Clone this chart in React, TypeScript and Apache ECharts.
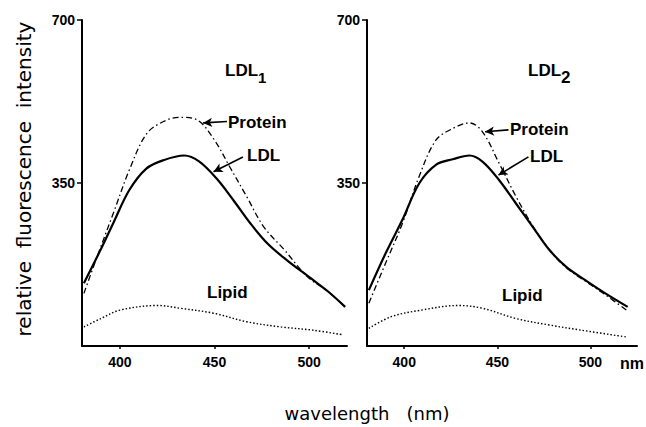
import React, { useEffect, useRef } from "react";
import * as echarts from "echarts";

// ---- data (wavelength in nm, relative fluorescence intensity) ----
const wlLdl1 = [381, 390, 397, 405, 414, 423, 434, 442, 451, 460, 469, 478, 488, 501, 510, 519];
const ldl1 = [135, 208, 268, 335, 381, 399, 409, 396, 360, 313, 263, 220, 185, 145, 117, 84];
const wlProtein1 = [381, 388, 397, 405, 414, 423, 432, 441, 450, 458, 467, 476, 487, 499, 510, 519];
const protein1 = [113, 192, 290, 378, 455, 482, 491, 485, 442, 385, 321, 256, 206, 149, 117, 84];
const wlLipid1 = [381, 390, 400, 420, 432, 450, 467, 485, 502, 518];
const lipid1 = [41, 59, 77, 87, 81, 70, 52, 41, 34, 24];

const wlLdl2 = [381, 390, 399, 408, 417, 426, 435, 442, 451, 460, 469, 478, 487, 497, 508, 520];
const ldl2 = [120, 199, 271, 349, 389, 401, 409, 396, 356, 306, 256, 206, 170, 142, 113, 84];
const wlProtein2 = [381, 390, 399, 408, 417, 426, 435, 442, 451, 460, 469, 478, 487, 497, 508, 520];
const protein2 = [92, 178, 263, 364, 442, 467, 479, 460, 392, 321, 258, 206, 168, 140, 110, 75];
const wlLipid2 = [381, 393, 409, 429, 442, 460, 478, 495, 520];
const lipid2 = [38, 63, 77, 87, 81, 59, 45, 34, 19];

const xTicks = [400, 450, 500];
const yTicks = [350, 700];

// arrows: [fromX, fromY, toX, toY] in data units
const arrowProtein1 = [456.6, 482, 444, 479];
const arrowLdl1 = [465, 406, 449.5, 374];
const arrowProtein2 = [456, 464, 443.4, 460];
const arrowLdl2 = [466.7, 406, 450.6, 367];

const zip = (xs: number[], ys: number[]) => xs.map((x, i) => [x, ys[i]]);

const FONT = "Liberation Sans";

function arrow(a: number[]) {
  return {
    silent: true,
    symbol: ["none", "arrow"],
    symbolSize: [7, 9],
    lineStyle: { color: "#000", type: "solid", width: 1.6 },
    label: { show: false },
    emphasis: { disabled: true },
    data: [[{ coord: [a[0], a[1]] }, { coord: [a[2], a[3]] }]],
  };
}

function lineSeries(idx: number, data: number[][], kind: string, mark?: number[]) {
  const style: any = { color: "#000" };
  if (kind === "solid") {
    style.width = 2.2;
    style.type = "solid";
  } else if (kind === "dashdot") {
    style.width = 1.3;
    style.type = [6, 3, 1.5, 3];
  } else {
    style.width = 1.4;
    style.type = [1.5, 2];
  }
  const s: any = {
    type: "line",
    xAxisIndex: idx,
    yAxisIndex: idx,
    data,
    smooth: 0.35,
    showSymbol: false,
    symbol: "none",
    lineStyle: style,
    silent: true,
  };
  if (mark) s.markLine = arrow(mark);
  return s;
}

function txt(x: number, y: number, text: string, size: number, extra: any = {}) {
  return {
    type: "text",
    x,
    y,
    style: {
      text,
      fill: "#000",
      font: `bold ${size}px "${FONT}"`,
      textAlign: "left",
      textVerticalAlign: "middle",
      ...extra,
    },
  };
}

export default function App() {
  const ref = useRef<HTMLDivElement>(null);
  useEffect(() => {
    if (!ref.current) return;
    const chart = echarts.init(ref.current, null, { renderer: "svg" });
    const xAxis = [0, 1].map((i) => ({
      type: "value",
      gridIndex: i,
      min: 380,
      max: i === 0 ? 520 : 525,
      axisLine: { show: true, onZero: false, lineStyle: { color: "#000", width: 2 } },
      axisTick: { show: true, customValues: xTicks, length: 3, lineStyle: { color: "#000", width: 1.5 } },
      axisLabel: {
        customValues: xTicks,
        margin: 9,
        color: "#000",
        fontSize: 14,
        fontWeight: "bold",
        fontFamily: FONT,
      },
      splitLine: { show: false },
    }));
    const yAxis = [0, 1].map((i) => ({
      type: "value",
      gridIndex: i,
      min: 0,
      max: 700,
      axisLine: { show: true, onZero: false, lineStyle: { color: "#000", width: 2 } },
      axisTick: { show: true, customValues: yTicks, length: 5, lineStyle: { color: "#000", width: 1.5 } },
      axisLabel: {
        customValues: yTicks,
        margin: 7,
        color: "#000",
        fontSize: 14,
        fontWeight: "bold",
        fontFamily: FONT,
      },
      splitLine: { show: false },
    }));
    const option: any = {
      animation: false,
      backgroundColor: "#fff",
      grid: [
        { left: 82, top: 20, width: 265, height: 326 },
        { left: 367, top: 20, width: 270, height: 326 },
      ],
      xAxis,
      yAxis,
      series: [
        lineSeries(0, zip(wlLdl1, ldl1), "solid", arrowLdl1),
        lineSeries(0, zip(wlProtein1, protein1), "dashdot", arrowProtein1),
        lineSeries(0, zip(wlLipid1, lipid1), "dotted"),
        lineSeries(1, zip(wlLdl2, ldl2), "solid", arrowLdl2),
        lineSeries(1, zip(wlProtein2, protein2), "dashdot", arrowProtein2),
        lineSeries(1, zip(wlLipid2, lipid2), "dotted"),
      ],
      graphic: [
        txt(225, 70, "LDL", 17),
        txt(258, 77, "1", 15),
        txt(528, 70, "LDL", 17),
        txt(561, 77, "2", 17),
        txt(228, 122, "Protein", 17),
        txt(247, 155, "LDL", 17),
        txt(207, 292, "Lipid", 17),
        txt(510, 129, "Protein", 17),
        txt(530, 156, "LDL", 17),
        txt(502, 295, "Lipid", 17),
        txt(620, 363, "nm", 16),
        {
          type: "text",
          x: 24,
          y: 179,
          rotation: Math.PI / 2,
          style: {
            text: "relative  fluorescence  intensity",
            fill: "#000",
            font: '20px "DejaVu Sans"',
            textAlign: "center",
            textVerticalAlign: "middle",
          },
        },
        {
          type: "text",
          x: 367,
          y: 413,
          style: {
            text: "wavelength   (nm)",
            fill: "#000",
            font: '18px "DejaVu Sans"',
            textAlign: "center",
            textVerticalAlign: "middle",
          },
        },
      ],
    };
    chart.setOption(option);
    return () => chart.dispose();
  }, []);
  return (
    <div
      ref={ref}
      style={{ position: "absolute", left: 0, top: 0, width: 646, height: 427, background: "#fff" }}
    />
  );
}
